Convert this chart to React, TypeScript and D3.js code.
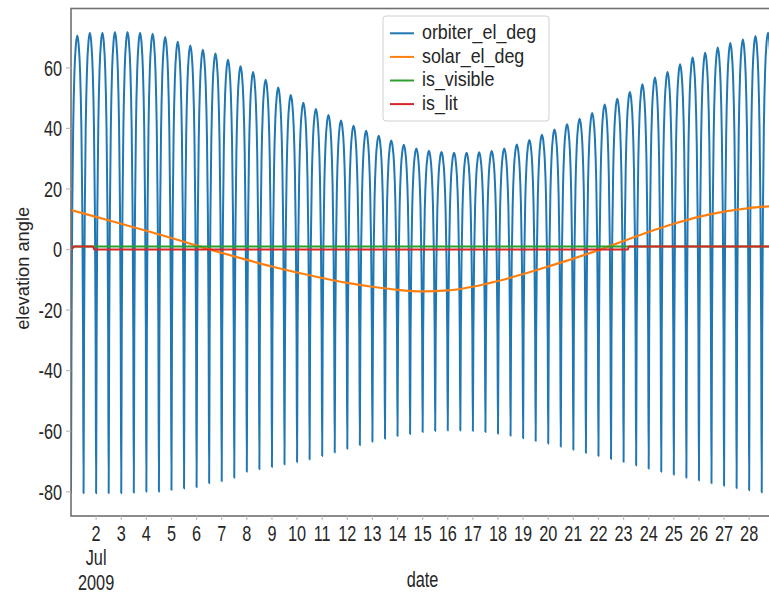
import React from "react";
import * as d3 from "d3";

const W = 769;
const H = 596;
const plot = { left: 71, top: 8.5, right: 770.5, bottom: 516 };

// Time origin of the record and the orbit rhythm (trough → culmination takes 6 h)
const recordStart = new Date(2009, 6, 1, 0, 0);
const recordEnd = new Date(2009, 6, 28, 20, 24);
const halfOrbitHours = 6;

// Lowest orbiter elevation of each orbit (deg), one per 12 h starting at the record start
const troughElevation = [
  -80.5, -80.5, -80.5, -80.5, -80.5, -80.3, -80.0, -80.0, -79.4, -78.9, -78.5, -77.2, -76.5, -75.4, -73.4,
  -72.6, -71.8, -71.0, -70.2,
  -69.3, -68.2, -67.0, -65.8, -64.6, -63.5, -62.5, -61.6, -60.9, -60.3, -59.9, -59.8, -59.8, -59.9, -60.3, -60.8,
  -61.5, -62.3, -63.2, -64.1,
  -65.1, -66.1, -67.2, -68.2, -69.2, -70.2, -71.3, -72.4, -73.4, -74.4, -75.4, -76.3, -77.2, -78.0, -78.8, -79.5, -80.2,
  -80.5,
];

// Culmination elevation of each orbit (deg)
const peakElevation = [
  70.7, 71.6, 71.6, 71.8, 71.8, 71.6, 71.3, 70.2, 68.6, 67.4, 66.0, 64.7, 62.7, 60.5, 58.6,
  56.1, 53.5, 51.0,
  48.5, 46.4, 44.4, 42.6, 40.9, 39.2, 37.6, 36.0, 34.6, 33.4, 32.6, 32.2, 32.0, 32.0, 32.1, 32.5,
  33.4, 34.7, 36.2, 37.9, 39.6,
  41.4, 43.2, 45.1, 47.9, 49.8, 52.0, 54.6, 56.8, 58.6, 61.2, 63.4, 65.0, 66.7, 68.2, 69.4, 70.5, 71.6,
];

// Shape of one rising leg: share of the half orbit elapsed vs share of the rise completed
const passShapeStep = [0, 0.08, 0.2, 0.35, 0.55, 0.78, 1];
const passShapeRise = [0, 0.35, 0.62, 0.8, 0.92, 0.98, 1];

// Solar elevation (deg) at midnight of each day of July
const solarDays = [1, 2, 3, 4, 5, 6, 7, 8, 9, 10, 11, 12, 13, 14, 15, 16, 17, 18, 19, 20, 21, 22, 23, 24, 25, 26, 27, 28, 29];
const solarElevation = [
  13.0, 10.8, 8.5, 6.2, 3.8, 1.3, -1.1, -3.4, -5.6, -7.6, -9.4, -11.0, -12.3, -13.3, -13.8,
  -13.5, -12.3, -10.4, -8.1, -5.6, -3.0, -0.2, 2.8, 5.8, 8.5, 10.8, 12.5, 13.7, 14.4,
];

// Flag series as (day-of-July, value) change points
const visibleDays = [1.0, 1.12, 28.85];
const visibleFlag = [0, 1, 1];
const litDays = [1.0, 1.12, 1.88, 1.92, 23.17, 23.21, 28.85];
const litFlag = [0, 1, 1, 0, 0, 1, 1];

const dayTicks = d3.range(2, 29);
const yTicks = [-80, -60, -40, -20, 0, 20, 40, 60];

const seriesNames = ["orbiter_el_deg", "solar_el_deg", "is_visible", "is_lit"];
const seriesColors = ["#1f77b4", "#ff7f0e", "#2ca02c", "#d62728"];

const dayToDate = (d: number) => new Date(recordStart.getTime() + (d - 1) * 864e5);
const hoursAfter = (h: number) => new Date(recordStart.getTime() + h * 36e5);

type Pt = { t: Date; v: number };

function orbiterPoints(): Pt[] {
  const pts: Pt[] = [];
  peakElevation.forEach((peak, i) => {
    const lowBefore = troughElevation[i];
    const lowAfter = troughElevation[i + 1];
    const t0 = 2 * halfOrbitHours * i;
    // rising leg
    passShapeStep.forEach((s, k) => {
      if (k === passShapeStep.length - 1) return;
      pts.push({ t: hoursAfter(t0 + s * halfOrbitHours), v: lowBefore + passShapeRise[k] * (peak - lowBefore) });
    });
    pts.push({ t: hoursAfter(t0 + halfOrbitHours), v: peak });
    // setting leg, mirrored
    for (let k = passShapeStep.length - 2; k >= 1; k--) {
      const s = passShapeStep[k];
      pts.push({
        t: hoursAfter(t0 + 2 * halfOrbitHours - s * halfOrbitHours),
        v: lowAfter + passShapeRise[k] * (peak - lowAfter),
      });
    }
  });
  pts.push({ t: hoursAfter(2 * halfOrbitHours * peakElevation.length), v: troughElevation[peakElevation.length] });
  return pts;
}

const FONT = "'Liberation Sans', Arial, sans-serif";

export default function App() {
  const x = d3.scaleTime().domain([recordStart, recordEnd]).range([plot.left, plot.right]);
  const y = d3.scaleLinear().domain([-88.0, 79.6]).range([plot.bottom, plot.top]);

  const orbitPath =
    d3
      .line<Pt>()
      .x((d) => x(d.t))
      .y((d) => y(d.v))
      .curve(d3.curveMonotoneX)(orbiterPoints()) || "";
  const solarPath =
    d3
      .line<Pt>()
      .x((d) => x(d.t))
      .y((d) => y(d.v))
      .curve(d3.curveMonotoneX)(solarDays.map((d, i) => ({ t: dayToDate(d), v: solarElevation[i] }))) || "";
  const flagLine = d3
    .line<Pt>()
    .x((d) => x(d.t))
    .y((d) => y(d.v));
  const visPath = flagLine(visibleDays.map((d, i) => ({ t: dayToDate(d), v: visibleFlag[i] }))) || "";
  const litPath = flagLine(litDays.map((d, i) => ({ t: dayToDate(d), v: litFlag[i] }))) || "";

  const tickFs = 22;
  const tickSx = 0.74;

  return (
    <svg width={W} height={H} style={{ position: "absolute", left: 0, top: 0, background: "#fff" }}>
      <defs>
        <clipPath id="plotClip">
          <rect x={plot.left} y={plot.top} width={plot.right - plot.left} height={plot.bottom - plot.top} />
        </clipPath>
      </defs>

      <g clipPath="url(#plotClip)" fill="none" strokeLinejoin="round">
        <path d={orbitPath} stroke={seriesColors[0]} strokeWidth={2} />
        <path d={solarPath} stroke={seriesColors[1]} strokeWidth={2.2} />
        <path d={visPath} stroke={seriesColors[2]} strokeWidth={2} />
        <path d={litPath} stroke={seriesColors[3]} strokeWidth={2} />
      </g>

      {/* frame */}
      <rect
        x={plot.left}
        y={plot.top}
        width={plot.right - plot.left}
        height={plot.bottom - plot.top}
        fill="none"
        stroke="#707070"
        strokeWidth={1.6}
      />

      {/* y axis */}
      {yTicks.map((t) => (
        <g key={t}>
          <line x1={plot.left - 5} x2={plot.left} y1={y(t)} y2={y(t)} stroke="#bdbdbd" strokeWidth={1.2} />
          <text
            transform={`translate(62,${y(t) + 7.8}) scale(${tickSx},1)`}
            textAnchor="end"
            fontFamily={FONT}
            fontSize={tickFs}
            fill="#262626"
          >
            {t}
          </text>
        </g>
      ))}

      {/* x axis */}
      {dayTicks.map((d) => (
        <g key={d}>
          <line x1={x(dayToDate(d))} x2={x(dayToDate(d))} y1={plot.bottom} y2={plot.bottom + 4} stroke="#bdbdbd" strokeWidth={1.2} />
          <text
            transform={`translate(${x(dayToDate(d))},541) scale(${tickSx},1)`}
            textAnchor="middle"
            fontFamily={FONT}
            fontSize={tickFs}
            fill="#262626"
          >
            {d}
          </text>
        </g>
      ))}
      <text
        transform={`translate(${x(dayToDate(2))},565) scale(${tickSx},1)`}
        textAnchor="middle"
        fontFamily={FONT}
        fontSize={tickFs}
        fill="#262626"
      >
        Jul
      </text>
      <text
        transform={`translate(${x(dayToDate(2))},590) scale(${tickSx},1)`}
        textAnchor="middle"
        fontFamily={FONT}
        fontSize={tickFs}
        fill="#262626"
      >
        2009
      </text>
      <text
        transform={`translate(422.5,587) scale(${tickSx},1)`}
        textAnchor="middle"
        fontFamily={FONT}
        fontSize={tickFs}
        fill="#262626"
      >
        date
      </text>
      <text
        transform={`translate(29,268.3) rotate(-90)`}
        textAnchor="middle"
        fontFamily={FONT}
        fontSize={18.3}
        fill="#262626"
      >
        elevation angle
      </text>

      {/* legend */}
      <g>
        <rect x={383} y={16} width={166} height={105} rx={3} fill="#fff" fillOpacity={0.8} stroke="#d0d0d0" strokeWidth={1} />
        {seriesNames.map((name, i) => {
          const cy = 33.3 + i * 23.6;
          return (
            <g key={name}>
              <line x1={390} x2={414} y1={cy} y2={cy} stroke={seriesColors[i]} strokeWidth={2} />
              <text
                transform={`translate(422,${cy + 5.6}) scale(0.88,1)`}
                fontFamily={FONT}
                fontSize={20.3}
                fill="#262626"
              >
                {name}
              </text>
            </g>
          );
        })}
      </g>
    </svg>
  );
}
